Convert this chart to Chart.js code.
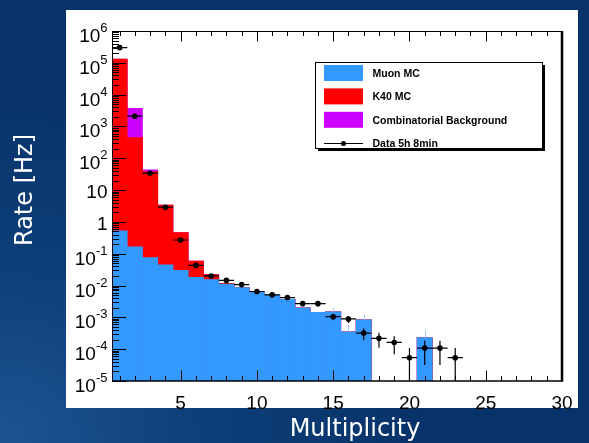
<!DOCTYPE html>
<html>
<head>
<meta charset="utf-8">
<title>Rate vs Multiplicity</title>
<script src="https://cdn.jsdelivr.net/npm/chart.js@4.4.1/dist/chart.umd.min.js"></script>
<style>
  html, body { margin: 0; padding: 0; }
  body {
    width: 589px; height: 443px; overflow: hidden; position: relative;
    background: radial-gradient(ellipse 70% 80% at 0% 100%, #1d5592 0%, #0d3f78 50%, #08336a 100%);
  }
  #panel { position: absolute; left: 66px; top: 10px; width: 512px; height: 398px; background: #fff; }
  #c { position: absolute; left: 0; top: 0; }
</style>
</head>
<body>
<div id="panel"></div>
<canvas id="c" width="589" height="443"></canvas>
<script>
// bins of hit multiplicity
var bins = [1, 2, 3, 4, 5, 6, 7, 8, 9, 10, 11, 12, 13, 14, 15,
            16, 17, 18, 19, 20, 21, 22, 23, 24, 25, 26, 27, 28, 29, 30];

// MC components [Hz], stacked muon -> K40 -> combinatorial
var muon = [0.52, 0.166, 0.076, 0.045, 0.030, 0.018, 0.0155, 0.0112, 0.0087, 0.0063,
            0.0050, 0.0037, 0.0020, 0.00145, 0.0015, 0.00035, 0.00083, 0, 0, 0,
            0.00023, 0, 0, 0, 0, 0, 0, 0, 0, 0];
var k40 = [1.3e5, 450, 38, 3.35, 0.43, 0.041, 0.0065, 0.0006, 0, 0,
           0, 0, 0, 0, 0, 0, 0, 0, 0, 0,
           0, 0, 0, 0, 0, 0, 0, 0, 0, 0];
var comb = [0, 3250, 5, 0, 0, 0, 0, 0, 0, 0,
            0, 0, 0, 0, 0, 0, 0, 0, 0, 0,
            0, 0, 0, 0, 0, 0, 0, 0, 0, 0];
var muonErr = [0, 0, 0, 0, 0, 0, 0, 0, 0, 0,
               0, 0, 0, 0, 0.0005, 0.00022, 0.00036, 0, 0, 0,
               0.00017, 0, 0, 0, 0, 0, 0, 0, 0, 0];

// data, 5h 8min
var rate = [3.0e5, 2100, 34, 2.9, 0.27, 0.043, 0.020, 0.0145, 0.0107, 0.0065,
            0.0051, 0.0042, 0.0027, 0.0027, 0.00105, 0.00089, 0.00032, 0.00022, 0.000163, 0.000054,
            0.000108, 0.000108, 0.000054, null, null, null, null, null, null, null];
var rateErr = [4, 0.34, 0.043, 0.0125, 0.0038, 0.0015, 0.001, 0.0009, 0.00076, 0.0006,
               0.00053, 0.00048, 0.00038, 0.00038, 0.00024, 0.00022, 0.00013, 0.00011, 0.000094, 0.000054,
               0.000076, 0.000076, 0.000054, null, null, null, null, null, null, null];

var xTicks = [5, 10, 15, 20, 25, 30];
var yExps = [-5, -4, -3, -2, -1, 0, 1, 2, 3, 4, 5, 6];

// cumulative tops for the stack
var muonTop = muon.map(function(v) { return v > 0 ? v : null; });
var k40Top = muon.map(function(v, i) { var s = v + k40[i]; return s > 0 ? s : null; });
var combTop = muon.map(function(v, i) { var s = v + k40[i] + comb[i]; return s > 0 ? s : null; });

var tickFont = '19px "Liberation Sans", Arial, sans-serif';

var rootStyle = {
  id: 'rootStyle',
  beforeDatasetDraw: function(chart, args) {
    if (args.index !== 3) return;
    var ctx = chart.ctx, xs = chart.scales.x, ys = chart.scales.y, a = chart.chartArea;
    ctx.save();
    ctx.beginPath();
    ctx.rect(a.left, a.top, a.right - a.left, a.bottom - a.top);
    ctx.clip();
    ctx.strokeStyle = '#000';
    ctx.lineWidth = 1.2;
    bins.forEach(function(b, i) {
      if (rate[i] == null) return;
      var y = ys.getPixelForValue(rate[i]);
      var x = xs.getPixelForValue(b);
      ctx.beginPath();
      ctx.moveTo(xs.getPixelForValue(b - 0.5), y);
      ctx.lineTo(xs.getPixelForValue(b + 0.5), y);
      var lo = rate[i] - rateErr[i];
      var yLo = lo > 0 ? ys.getPixelForValue(lo) : a.bottom;
      ctx.moveTo(x, ys.getPixelForValue(rate[i] + rateErr[i]));
      ctx.lineTo(x, yLo);
      ctx.stroke();
    });
    ctx.restore();
  },
  afterDatasetDraw: function(chart, args) {
    if (args.index !== 0) return;
    var ctx = chart.ctx, xs = chart.scales.x, ys = chart.scales.y;
    ctx.save();
    ctx.strokeStyle = '#9ccaff';
    ctx.lineWidth = 1;
    bins.forEach(function(b, i) {
      if (!muonErr[i]) return;
      var x = Math.round(xs.getPixelForValue(b)) + 0.5;
      ctx.beginPath();
      ctx.moveTo(x, ys.getPixelForValue(muon[i]));
      ctx.lineTo(x, ys.getPixelForValue(muon[i] + muonErr[i]));
      ctx.stroke();
    });
    ctx.restore();
  },
  afterDraw: function(chart) {
    var ctx = chart.ctx, xs = chart.scales.x, ys = chart.scales.y, a = chart.chartArea;
    ctx.save();

    // frame
    ctx.strokeStyle = '#000';
    ctx.lineWidth = 1;
    ctx.beginPath();
    ctx.moveTo(a.left + 0.5, a.bottom);
    ctx.lineTo(a.left + 0.5, a.top + 0.5);
    ctx.lineTo(a.right, a.top + 0.5);
    ctx.stroke();
    ctx.lineWidth = 1.5;
    ctx.beginPath();
    ctx.moveTo(a.left, a.bottom);
    ctx.lineTo(a.right, a.bottom);
    ctx.stroke();
    ctx.lineWidth = 2.5;
    ctx.beginPath();
    ctx.moveTo(a.right, a.top);
    ctx.lineTo(a.right, a.bottom + 0.7);
    ctx.stroke();

    // x ticks, bottom and top
    ctx.lineWidth = 1;
    bins.forEach(function(b) {
      if (b >= 30) return;
      var x = Math.round(xs.getPixelForValue(b)) + 0.5;
      var len = xTicks.indexOf(b) >= 0 ? 10.5 : 5;
      ctx.beginPath();
      ctx.moveTo(x, a.bottom);
      ctx.lineTo(x, a.bottom - len);
      ctx.moveTo(x, a.top);
      ctx.lineTo(x, a.top + len);
      ctx.stroke();
    });

    // y ticks and labels
    yExps.forEach(function(e) {
      var dec = Math.pow(10, e);
      var y = Math.round(ys.getPixelForValue(dec)) + 0.5;
      ctx.beginPath();
      ctx.moveTo(a.left, y);
      ctx.lineTo(a.left + 14, y);
      ctx.stroke();
      if (e < 6) {
        for (var m = 2; m <= 9; m++) {
          var ym = Math.round(ys.getPixelForValue(m * dec)) + 0.5;
          ctx.beginPath();
          ctx.moveTo(a.left, ym);
          ctx.lineTo(a.left + 7, ym);
          ctx.stroke();
        }
      }
      var right = a.left - 4.5;
      ctx.fillStyle = '#000';
      ctx.textBaseline = 'alphabetic';
      if (e === 0 || e === 1) {
        ctx.font = tickFont;
        ctx.textAlign = 'right';
        ctx.fillText(e === 0 ? '1' : '10', right, y + 7);
      } else {
        ctx.font = '13px "Liberation Sans", Arial, sans-serif';
        var ex = String(e);
        var ew = ctx.measureText(ex).width;
        ctx.textAlign = 'left';
        ctx.fillText(ex, right - ew, y + 0.5);
        ctx.font = tickFont;
        ctx.textAlign = 'right';
        ctx.fillText('10', right - ew, y + 10.5);
      }
    });

    // legend box
    var lx = 315, ly = 62, lw = 227, lh = 86;
    ctx.fillStyle = '#000';
    ctx.fillRect(lx + 3, ly + 3, lw, lh);
    ctx.fillStyle = '#fff';
    ctx.fillRect(lx, ly, lw, lh);
    ctx.strokeStyle = '#000';
    ctx.lineWidth = 1;
    ctx.strokeRect(lx + 0.5, ly + 0.5, lw, lh);
    chart.data.datasets.forEach(function(ds, i) {
      var cy = 73 + i * 23.4;
      if (ds.type === 'line') {
        ctx.beginPath();
        ctx.moveTo(324, Math.round(cy) + 0.5);
        ctx.lineTo(363, Math.round(cy) + 0.5);
        ctx.stroke();
        ctx.fillStyle = '#000';
        ctx.beginPath();
        ctx.arc(343.5, Math.round(cy) + 0.5, 2.5, 0, Math.PI * 2);
        ctx.fill();
      } else {
        ctx.fillStyle = ds.backgroundColor;
        ctx.fillRect(324, cy - 8, 39, 16);
      }
      ctx.fillStyle = '#000';
      ctx.font = 'bold 10.5px "Liberation Sans", Arial, sans-serif';
      ctx.textAlign = 'left';
      ctx.textBaseline = 'alphabetic';
      ctx.fillText(ds.label, 372.5, cy + 4);
    });

    // axis titles on the slide background
    ctx.fillStyle = '#fff';
    ctx.font = '24px "DejaVu Sans", sans-serif';
    ctx.textAlign = 'center';
    ctx.textBaseline = 'alphabetic';
    ctx.fillText('Multiplicity', 355, 435.5);
    ctx.translate(32, 190);
    ctx.rotate(-Math.PI / 2);
    ctx.fillText('Rate [Hz]', 0, 0);
    ctx.restore();
  }
};

new Chart(document.getElementById('c'), {
  type: 'bar',
  data: {
    labels: bins,
    datasets: [
      { label: 'Muon MC', data: muonTop, backgroundColor: '#3399ff', order: 1 },
      { label: 'K40 MC', data: k40Top, backgroundColor: '#ff0000', order: 2 },
      { label: 'Combinatorial Background', data: combTop, backgroundColor: '#cc00ff', order: 3 },
      { type: 'line', label: 'Data 5h 8min', data: rate, showLine: false,
        pointRadius: 2.8, pointHoverRadius: 2.8, pointBackgroundColor: '#000',
        pointBorderWidth: 0, borderColor: '#000', order: 0 }
    ]
  },
  options: {
    responsive: false,
    animation: false,
    devicePixelRatio: 1,
    layout: { padding: { top: 31, right: 27, left: 0, bottom: 0 } },
    datasets: {
      bar: { grouped: false, barPercentage: 1, categoryPercentage: 1, borderWidth: 0 }
    },
    plugins: {
      legend: { display: false },
      tooltip: { enabled: false }
    },
    scales: {
      x: {
        type: 'linear', min: 0.5, max: 30, offset: false,
        grid: { display: false },
        border: { display: false },
        afterBuildTicks: function(s) {
          s.ticks = xTicks.map(function(v) { return { value: v }; });
        },
        ticks: {
          font: { family: '"Liberation Sans", Arial, sans-serif', size: 19 },
          color: '#000', padding: 3, maxRotation: 0, autoSkip: false
        },
        afterFit: function(s) { s.height = 62; }
      },
      y: {
        type: 'logarithmic', min: 1e-5, max: 1e6,
        grid: { display: false },
        border: { display: false },
        ticks: { display: false },
        afterFit: function(s) { s.width = 112; }
      }
    }
  },
  plugins: [rootStyle]
});
</script>
</body>
</html>
